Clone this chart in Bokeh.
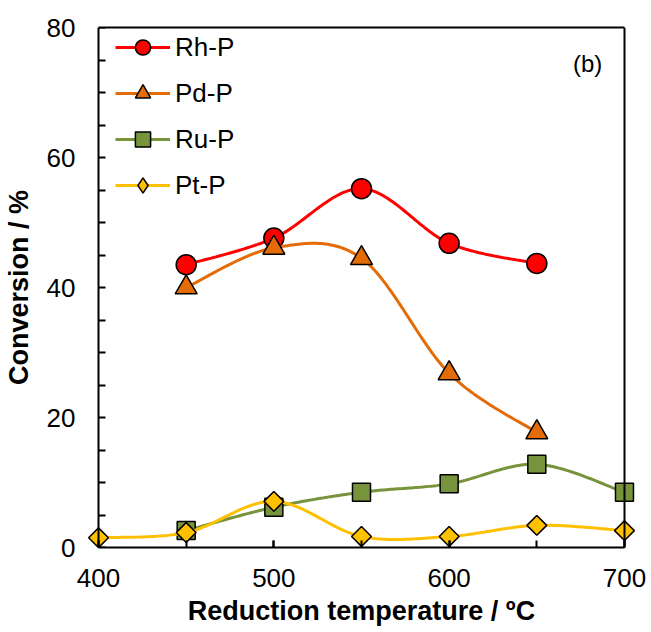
import numpy as np
from bokeh.plotting import figure
from bokeh.models import FixedTicker, Legend, LegendItem, Label, Range1d, LinearAxis
from bokeh.embed import file_html
from bokeh.resources import INLINE

# ---- data ----
temps_rh = [450, 500, 550, 600, 650]
rh_p = [43.5, 47.6, 55.2, 46.8, 43.7]
temps_pd = [450, 500, 550, 600, 650]
pd_p = [40.0, 46.1, 44.5, 26.8, 17.7]
temps_ru = [450, 500, 550, 600, 650, 700]
ru_p = [2.6, 6.2, 8.5, 9.8, 12.8, 8.5]
temps_pt = [400, 450, 500, 550, 600, 650, 700]
pt_p = [1.5, 2.3, 7.1, 1.7, 1.7, 3.4, 2.6]

series_names = ["Rh-P", "Pd-P", "Ru-P", "Pt-P"]
x_ticks = [400, 500, 600, 700]
y_ticks = [0, 20, 40, 60, 80]
X_MIN, X_MAX, Y_MIN, Y_MAX = 400, 700, 0, 80

FONT = "Liberation Sans"


def smooth(xs, ys, n=40):
    """Excel-like smoothed line (Catmull-Rom style cubic Bezier)."""
    pts = np.column_stack([xs, ys]).astype(float)
    m = len(pts)
    ox, oy = [], []
    t = np.linspace(0, 1, n)
    for i in range(m - 1):
        p0 = pts[i - 1] if i > 0 else pts[i]
        p1 = pts[i]
        p2 = pts[i + 1]
        p3 = pts[i + 2] if i + 2 < m else pts[i + 1]
        c1 = p1 + (p2 - p0) / 6.0
        c2 = p2 - (p3 - p1) / 6.0
        b = ((1 - t) ** 3)[:, None] * p1 + (3 * (1 - t) ** 2 * t)[:, None] * c1 \
            + (3 * (1 - t) * t ** 2)[:, None] * c2 + (t ** 3)[:, None] * p2
        if i > 0:
            b = b[1:]
        ox.extend(b[:, 0]); oy.extend(b[:, 1])
    return ox, oy


PAD = 8  # data-unit padding so edge markers are not clipped
p = figure(frame_width=554, frame_height=520, output_backend="svg",
           toolbar_location=None,
           x_range=Range1d(X_MIN - PAD, X_MAX + PAD), y_range=Range1d(Y_MIN, Y_MAX))
p.min_border_left = 84
p.min_border_right = 13
p.min_border_top = 27
p.min_border_bottom = 80
p.background_fill_color = "white"
p.border_fill_color = "white"
p.grid.visible = False
p.outline_line_color = None

# x axis (bottom)
xa = p.xaxis[0]
xa.ticker = FixedTicker(ticks=x_ticks, minor_ticks=list(range(400, 701, 50)))
xa.bounds = (X_MIN, X_MAX)
xa.axis_line_width = 2
xa.axis_line_color = "black"
xa.major_tick_in = 7
xa.major_tick_out = 0
xa.minor_tick_in = 7
xa.minor_tick_out = 0
xa.major_tick_line_width = 2
xa.minor_tick_line_width = 2
xa.major_tick_line_color = "black"
xa.minor_tick_line_color = "black"
xa.major_label_standoff = 21
xa.axis_label = "Reduction temperature / ºC"
xa.axis_label_standoff = 6

# y axis (left panel): labels and title only
ya = p.yaxis[0]
ya.ticker = FixedTicker(ticks=y_ticks)
ya.axis_line_color = None
ya.major_tick_line_color = None
ya.minor_tick_line_color = None
ya.major_tick_in = 0
ya.major_tick_out = 0
ya.minor_tick_in = 0
ya.minor_tick_out = 0
ya.major_label_standoff = 9
ya.axis_label = "Conversion / %"
ya.axis_label_standoff = 10

for ax in (xa, ya):
    ax.major_label_text_font = FONT
    ax.major_label_text_font_size = "26px"
    ax.major_label_text_color = "black"
    ax.axis_label_text_font = FONT
    ax.axis_label_text_font_size = "27px"
    ax.axis_label_text_font_style = "bold"
    ax.axis_label_text_color = "black"

# y axis line and inward ticks at x = 400
y_line = LinearAxis(ticker=FixedTicker(ticks=[], minor_ticks=list(range(0, 81, 5))),
                    bounds=(Y_MIN, Y_MAX), fixed_location=X_MIN,
                    axis_line_width=2, axis_line_color="black",
                    major_tick_in=0, major_tick_out=0,
                    minor_tick_in=7, minor_tick_out=0,
                    minor_tick_line_width=2, minor_tick_line_color="black")
p.add_layout(y_line, "left")

# box: top and right edges
top_ax = LinearAxis(ticker=FixedTicker(ticks=[]), bounds=(X_MIN, X_MAX),
                    axis_line_width=2, axis_line_color="black",
                    major_tick_in=0, major_tick_out=0, minor_tick_in=0, minor_tick_out=0)
right_ax = LinearAxis(ticker=FixedTicker(ticks=[]), bounds=(Y_MIN, Y_MAX),
                      fixed_location=X_MAX,
                      axis_line_width=2, axis_line_color="black",
                      major_tick_in=0, major_tick_out=0, minor_tick_in=0, minor_tick_out=0)
p.add_layout(top_ax, "above")
p.add_layout(right_ax, "right")

specs = [
    (temps_rh, rh_p, "#FF0000", "circle", 20, 0, "circle"),
    (temps_pd, pd_p, "#E36C09", "triangle", 22, 0, "triangle"),
    (temps_ru, ru_p, "#77933C", "square", 18, 0, "square"),
    (temps_pt, pt_p, "#FFC000", "square", 14, np.pi / 4, "diamond"),
]

items = []
for name, (xs, ys, col, mk, sz, ang, legend_mk) in zip(series_names, specs):
    sx, sy = smooth(xs, ys)
    ln = p.line(sx, sy, line_color=col, line_width=3)
    if legend_mk == mk and ang == 0:
        sc = p.scatter(xs, ys, marker=mk, size=sz, fill_color=col,
                       line_color="black", line_width=1.5)
        items.append(LegendItem(label=name, renderers=[ln, sc]))
    else:
        # legend sample glyph, hidden beneath the real (rotated) markers
        lg = p.scatter(xs, ys, marker=legend_mk, size=sz, fill_color=col,
                       line_color="black", line_width=1.5)
        p.scatter(xs, ys, marker=mk, size=sz, angle=ang, fill_color=col,
                  line_color="black", line_width=1.5)
        items.append(LegendItem(label=name, renderers=[ln, lg]))

legend = Legend(items=items, location=(31, 343), margin=0, padding=0,
                glyph_width=55, glyph_height=38, label_height=38, spacing=8,
                label_standoff=5, label_text_font=FONT,
                label_text_font_size="26px", label_text_color="black",
                background_fill_alpha=0, border_line_alpha=0)
p.add_layout(legend, "center")

p.add_layout(Label(x=679, y=74.5, text="(b)", text_font=FONT,
                   text_font_size="24px", text_color="black",
                   text_align="center", text_baseline="middle"))

open("out.html", "w").write(file_html(p, INLINE))
